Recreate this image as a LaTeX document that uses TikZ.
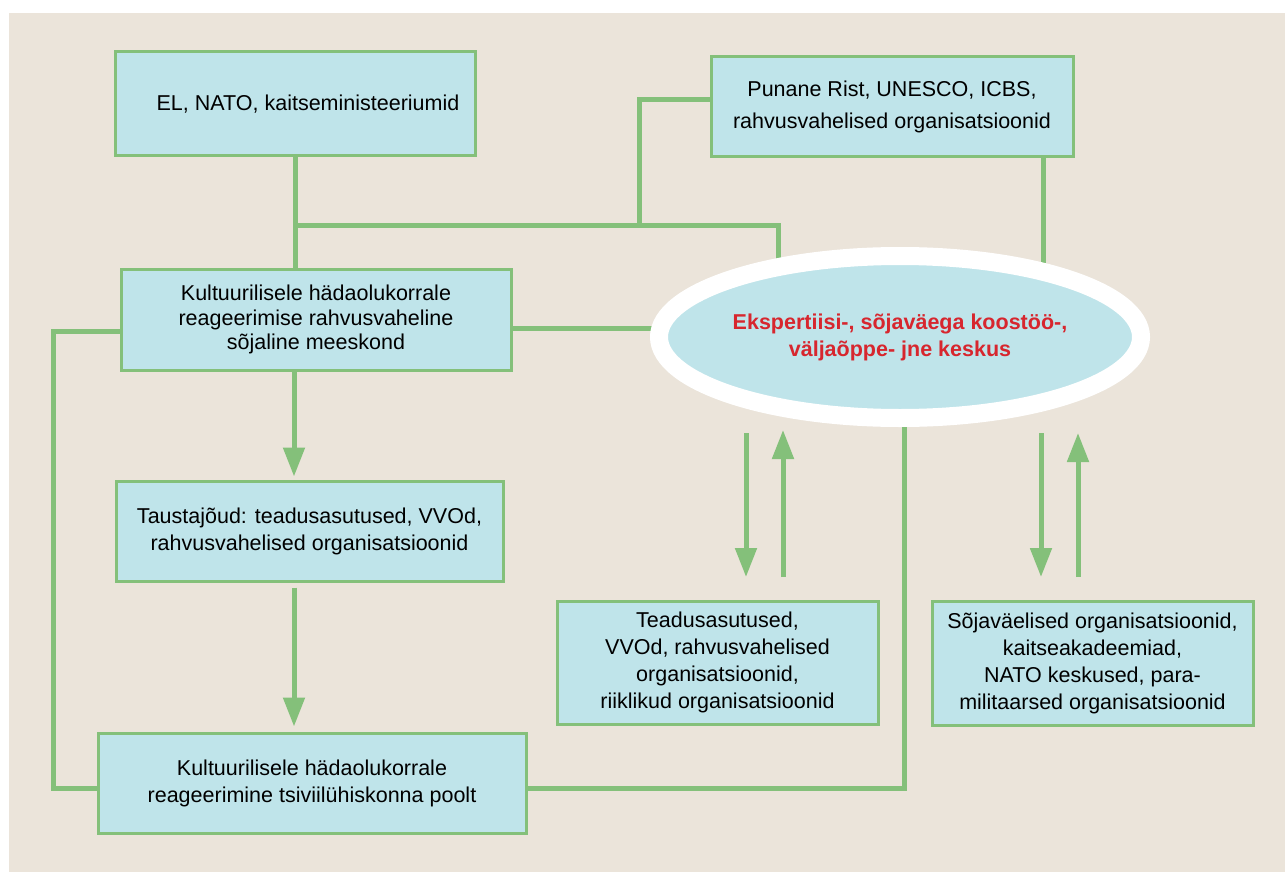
\documentclass[tikz,border=0pt]{standalone}
\usepackage{fontspec}
\setmainfont{Liberation Sans}
\usetikzlibrary{arrows.meta,shapes.geometric}
\definecolor{bgbeige}{HTML}{EBE4DA}
\definecolor{boxblue}{HTML}{BFE4EA}
\definecolor{lgreen}{HTML}{84C07A}
\definecolor{hred}{HTML}{D7262E}
\tikzset{
  box/.style={draw=lgreen, line width=3pt, fill=boxblue, align=center, inner sep=0pt,
    font=\fontsize{21.5}{27}\selectfont},
  conn/.style={draw=lgreen, line width=5pt},
  arr/.style={conn, -{Triangle[width=21pt,length=29pt]}},
}
\begin{document}
\begin{tikzpicture}[x=1pt,y=-1pt]
\useasboundingbox (0,0) rectangle (1285,872);
\fill[bgbeige] (9,13) rectangle (1285,872);

% boxes
\node[box, minimum width=360pt, minimum height=104pt] (b1) at (295,104) {\hspace*{26pt}EL, NATO, kaitseministeeriumid};
\node[box, minimum width=362pt, minimum height=100pt, font=\fontsize{21.5}{32}\selectfont] (b2) at (892,107) {Punane Rist, UNESCO, ICBS,\\rahvusvahelised organisatsioonid};
\node[box, minimum width=390pt, minimum height=101pt, font=\fontsize{21.5}{24.5}\selectfont] (b3) at (316,319.5) {Kultuurilisele hädaolukorrale\\reageerimise rahvusvaheline\\sõjaline meeskond};
\node[box, minimum width=387pt, minimum height=100pt] (b4) at (309.5,531) {Taustajõud: teadusasutused, VVOd,\\rahvusvahelised organisatsioonid};
\node[box, minimum width=428pt, minimum height=100pt] (b5) at (312,783) {Kultuurilisele hädaolukorrale\\reageerimine tsiviilühiskonna poolt};
\node[box, minimum width=321pt, minimum height=123pt] (b6) at (717.5,662.5) {Teadusasutused,\\VVOd, rahvusvahelised\\organisatsioonid,\\riiklikud organisatsioonid};
\node[box, minimum width=321pt, minimum height=124pt] (b7) at (1092.5,663) {Sõjaväelised organisatsioonid,\\kaitseakadeemiad,\\NATO keskused, para-\\militaarsed organisatsioonid};

% coordinates
\coordinate (ec) at (900,337);
\coordinate (j1) at (295,225);
\coordinate (j2) at (778,225);
\coordinate (j3) at (639,225);
\coordinate (j4) at (639,100);
\coordinate (k1) at (1043,157);
\coordinate (L1) at (53,331);
\coordinate (L2) at (53,788.5);
\coordinate (R1) at (904,788.5);

% connectors (under ellipse)
\draw[conn] (b1.south) -- (b1.south |- b3.north);
\draw[conn] (j1) -- (j2) -- (j2 |- ec);
\draw[conn] (j3) -- (j4) -- (j4 -| b2.west);
\draw[conn] (k1) -- (k1 |- ec);
\draw[conn] ([yshift=-8.5pt]b3.east) -- ([yshift=-8.5pt]b3.east -| ec);
\draw[conn] ([yshift=-11.5pt]b3.west) -- (L1) -- (L2) -- (L2 -| b5.west);
\draw[conn] (b5.east |- R1) -- (R1) -- (R1 |- ec);

% ellipse
\node[ellipse, draw=white, line width=18pt, fill=boxblue, minimum width=482pt, minimum height=162pt,
  inner sep=0pt, align=center, text=hred, font=\bfseries\fontsize{21.5}{27}\selectfont] (ell) at (ec)
  {Ekspertiisi-, sõjaväega koostöö-,\\väljaõppe- jne keskus};

% vertical arrows
\draw[arr] ([xshift=-22pt]b3.south) -- ([xshift=-22pt,yshift=3pt]b3.south |- b4.north);
\draw[arr] ([xshift=-15.5pt,yshift=-5pt]b4.south) -- ([xshift=-15.5pt,yshift=5pt]b4.south |- b5.north);

\coordinate (a1s) at (746,433); \coordinate (a1e) at (746,577);
\coordinate (a2s) at (783,577); \coordinate (a2e) at (783,430);
\coordinate (a3s) at (1041,433); \coordinate (a3e) at (1041,577);
\coordinate (a4s) at (1078,577); \coordinate (a4e) at (1078,433);
\draw[arr] (a1s) -- (a1e);
\draw[arr] (a2s) -- (a2e);
\draw[arr] (a3s) -- (a3e);
\draw[arr] (a4s) -- (a4e);
\end{tikzpicture}
\end{document}
